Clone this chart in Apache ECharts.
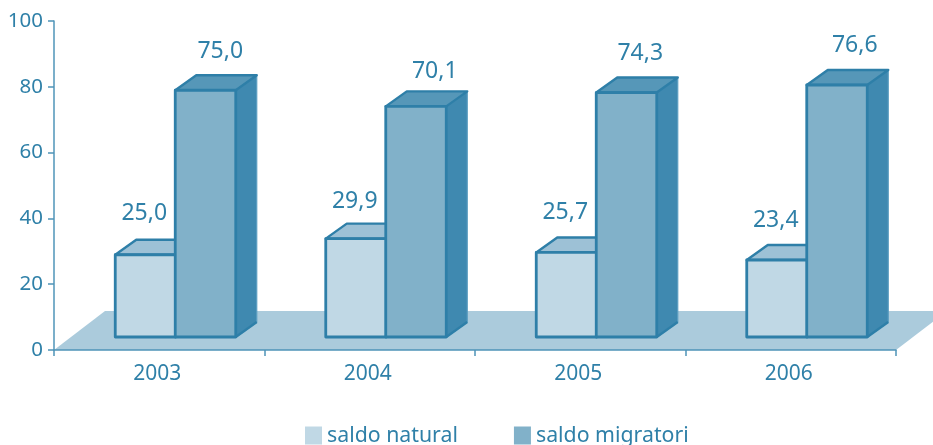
<!DOCTYPE html>
<html><head><meta charset="utf-8">
<style>html,body{margin:0;padding:0;background:#fff}#c{width:933px;height:445px}</style>
<script src="https://cdn.jsdelivr.net/npm/echarts@6/dist/echarts.min.js"></script>
</head><body><div id="c"></div>
<script>
const categories = ['2003','2004','2005','2006'];
const saldoNatural = [25.0, 29.9, 25.7, 23.4];
const saldoMigratori = [75.0, 70.1, 74.3, 76.6];
const yTicks = [0,20,40,60,80,100];

const INK = '#2f80a8', FONT = '"Noto Sans"';
const BASE = 13, BW = 60.5, DX = 21, DY = 15;
const fmt = v => v.toFixed(1).replace('.', ',');

function barSeries(name, values, left, colors, labelDx, labelNudge) {
  return {
    name, type: 'custom', coordinateSystem: 'cartesian2d', z: 3,
    itemStyle: { color: colors.front },
    data: values.map((v, i) => [i, v]),
    renderItem(params, api) {
      const i = api.value(0), v = api.value(1);
      const c = api.coord([i, 0]), t = api.coord([i, v]);
      const x0 = c[0] + left, x1 = x0 + BW, yb = c[1] - BASE, yt = t[1] - BASE;
      const poly = (pts, fill, stroke, lw) => ({ type: 'polygon', shape: { points: pts },
        style: { fill, stroke, lineWidth: lw, lineJoin: 'round' } });
      const line = (pts, lw) => ({ type: 'polyline', shape: { points: pts },
        style: { fill: null, stroke: '#2e7fa8', lineWidth: lw } });
      return { type: 'group', children: [
        poly([[x1,yt],[x1+DX,yt-DY],[x1+DX,yb-DY],[x1,yb]], colors.side, '#5b9dc0', 1.2),
        poly([[x0,yt],[x0+DX,yt-DY],[x1+DX,yt-DY],[x1,yt]], colors.top, '#2e7fa8', 2.4),
        line([[x1,yb],[x1+DX,yb-DY]], 2.4),
        poly([[x0,yt],[x1,yt],[x1,yb],[x0,yb]], colors.front, '#2e7fa8', 2.8),
        { type: 'text', style: { text: fmt(v), x: x0 + labelDx[i], y: yt - labelNudge[i],
          fill: INK, font: '23px ' + FONT, align: 'center', verticalAlign: 'middle' } }
      ]};
    }
  };
}

const chart = echarts.init(document.getElementById('c'), null, { renderer: 'canvas' });
chart.setOption({
  animation: false,
  backgroundColor: '#fff',
  textStyle: { fontFamily: FONT },
  grid: { left: 54, top: 21, width: 842, height: 329, containLabel: false },
  legend: {
    left: 305, top: 425, padding: 0, itemWidth: 17, itemHeight: 18, itemGap: 56, selectedMode: false,
    icon: 'rect', data: ['saldo natural', 'saldo migratori'],
    textStyle: { color: INK, fontSize: 21.3, fontFamily: FONT }
  },
  xAxis: {
    type: 'category', data: categories, z: 10,
    axisLine: { lineStyle: { color: '#4f94b8', width: 1.5 } },
    axisTick: { show: true, length: 6, inside: false, alignWithLabel: false, lineStyle: { color: '#4f94b8', width: 1.5 } },
    axisLabel: { color: INK, fontSize: 21, margin: 14, fontFamily: FONT, padding: [0,4,0,0], hideOverlap: false },
    splitLine: { show: false }
  },
  yAxis: {
    type: 'value', min: 0, max: 100, interval: 20, z: 10,
    axisLine: { show: true, lineStyle: { color: '#4f94b8', width: 1.5 } },
    axisTick: { show: true, length: 6, lineStyle: { color: '#4f94b8', width: 1.5 } },
    axisLabel: { color: INK, fontSize: 20.5, margin: 11, fontFamily: FONT },
    splitLine: { show: false }
  },
  series: [
    { type: 'custom', name: 'floor', z: 1, silent: true, data: [[0, 0]],
      renderItem(params, api) {
        const cs = params.coordSys, y = cs.y + cs.height, xL = cs.x, xR = cs.x + cs.width;
        return { type: 'polygon', shape: { points: [[xL,y],[xL+51,y-39],[xR+51,y-39],[xR,y]] },
          style: { fill: '#abcbdc' } };
      } },
    barSeries('saldo natural', saldoNatural, -44,
      { front: '#c0d8e5', top: '#9dc1d6', side: '#9dc1d6' }, [29,29,29,29], [41,37,40,40]),
    barSeries('saldo migratori', saldoMigratori, 16,
      { front: '#81b1c9', top: '#5697b8', side: '#3f89b0' }, [45,49,44,48], [39,35,39,40])
  ]
});
</script></body></html>
